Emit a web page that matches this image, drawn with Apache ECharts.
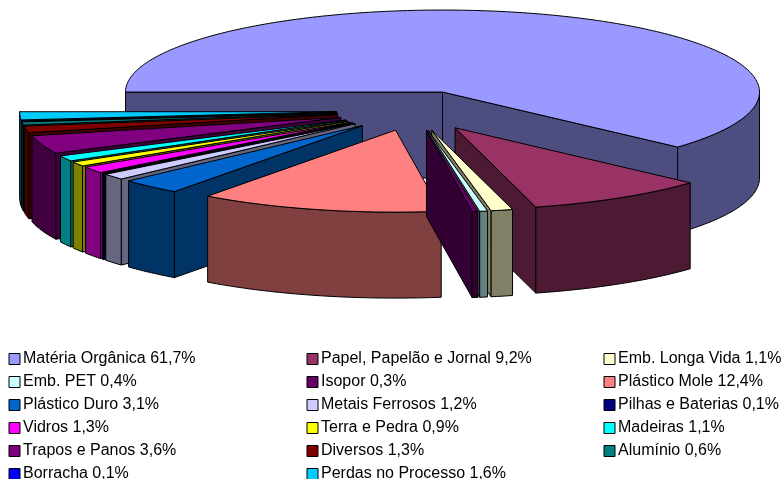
<!DOCTYPE html>
<html>
<head>
<meta charset="utf-8">
<style>
  html, body { margin: 0; padding: 0; background: #fff; }
  #chart { width: 783px; height: 479px; }
</style>
<script src="https://cdn.jsdelivr.net/npm/echarts@6/dist/echarts.min.js"></script>
</head>
<body>
<div id="chart"></div>
<script>
const categories = [
  'Matéria Orgânica', 'Papel, Papelão e Jornal', 'Emb. Longa Vida', 'Emb. PET', 'Isopor',
  'Plástico Mole', 'Plástico Duro', 'Metais Ferrosos', 'Pilhas e Baterias', 'Vidros',
  'Terra e Pedra', 'Madeiras', 'Trapos e Panos', 'Diversos', 'Alumínio', 'Borracha',
  'Perdas no Processo'
]
const shares = [61.7, 9.2, 1.1, 0.4, 0.3, 12.4, 3.1, 1.2, 0.1, 1.3, 0.9, 1.1, 3.6, 1.3, 0.6, 0.1, 1.6]
const colors = [
  '#9999FF', '#993366', '#FFFFCC', '#CCFFFF', '#660066', '#FF8080', '#0066CC', '#CCCCFF', '#000080',
  '#FF00FF', '#FFFF00', '#00FFFF', '#800080', '#800000', '#008080', '#0000FF', '#00CCFF'
]

// pie geometry
const pie = { cx: 414.5, cy: 110.7, rx: 317, ry: 82, depth: 86, explodeX: 78, explodeY: 20 }

const label = i => categories[i] + ' ' + shares[i].toFixed(1).replace('.', ',') + '%'
const total = shares.reduce((a, b) => a + b, 0)
const rad = d => d * Math.PI / 180

// slices run clockwise, starting at 9 o'clock
let cum = 0
const slices = shares.map((v, i) => {
  const start = 180 - cum / total * 360
  cum += v
  const end = 180 - cum / total * 360
  const mid = (start + end) / 2
  return {
    i, start, end, mid,
    ax: pie.cx + pie.explodeX * Math.cos(rad(mid)),
    ay: pie.cy - pie.explodeY * Math.sin(rad(mid))
  }
})

function rim(s, deg) {
  return [s.ax + pie.rx * Math.cos(rad(deg)), s.ay - pie.ry * Math.sin(rad(deg))]
}

function arcPoints(s, from, to) {
  const n = Math.max(2, Math.ceil(Math.abs(from - to)))
  const pts = []
  for (let k = 0; k <= n; k++) pts.push(rim(s, from + (to - from) * k / n))
  return pts
}

function shade(hex) {
  const n = parseInt(hex.slice(1), 16)
  const half = x => Math.round(x / 2)
  return `rgb(${half(n >> 16)},${half((n >> 8) & 255)},${half(n & 255)})`
}

function renderSlice(s) {
  const fill = colors[s.i]
  const side = shade(fill)
  const d = pie.depth
  const face = (points, color) => ({
    type: 'polygon',
    shape: { points },
    style: { fill: color, stroke: '#000', lineWidth: 1, lineJoin: 'round' }
  })
  const children = []

  // radial walls, only when the top face lies above the edge on screen
  const midPt = rim(s, s.mid)
  ;[s.start, s.end].forEach(deg => {
    const p = rim(s, deg)
    const cross = (p[0] - s.ax) * (midPt[1] - s.ay) - (p[1] - s.ay) * (midPt[0] - s.ax)
    const interiorAbove = p[0] > s.ax ? cross < 0 : cross > 0
    if (interiorAbove) {
      children.push(face([[s.ax, s.ay], p, [p[0], p[1] + d], [s.ax, s.ay + d]], side))
    }
  })

  // outer wall, front half only
  const from = Math.min(s.start, 0)
  const to = Math.max(s.end, -180)
  if (from > to) {
    const upper = arcPoints(s, from, to)
    const lower = upper.map(p => [p[0], p[1] + d]).reverse()
    children.push(face(upper.concat(lower), side))
  }

  // top
  children.push(face([[s.ax, s.ay]].concat(arcPoints(s, s.start, s.end)), fill))
  return { type: 'group', children }
}

// back to front
const drawOrder = slices.slice().sort((a, b) => Math.abs(b.mid + 90) - Math.abs(a.mid + 90))

const series = drawOrder.map((s, n) => ({
  type: 'custom',
  name: label(s.i),
  coordinateSystem: 'none',
  silent: true,
  animation: false,
  z: 2 + n,
  itemStyle: { color: colors[s.i], borderColor: '#000', borderWidth: 1 },
  data: [shares[s.i]],
  renderItem: () => renderSlice(s)
}))

const legendColumn = (col, left) => ({
  orient: 'vertical',
  left,
  top: 351,
  height: 200,
  padding: 0,
  itemWidth: 11,
  itemHeight: 11,
  itemGap: 7,
  icon: 'rect',
  selectedMode: false,
  data: categories.map((c, i) => i).filter(i => i % 3 === col).map(label),
  textStyle: { fontFamily: 'Liberation Sans', fontSize: 16, color: '#000', padding: [0, 0, 0, -2] },
  itemStyle: { borderColor: '#000', borderWidth: 1 }
})

const chart = echarts.init(document.getElementById('chart'))
chart.setOption({
  backgroundColor: '#fff',
  animation: false,
  legend: [legendColumn(0, 8.5), legendColumn(1, 306.5), legendColumn(2, 603.5)],
  series
})
</script>
</body>
</html>
